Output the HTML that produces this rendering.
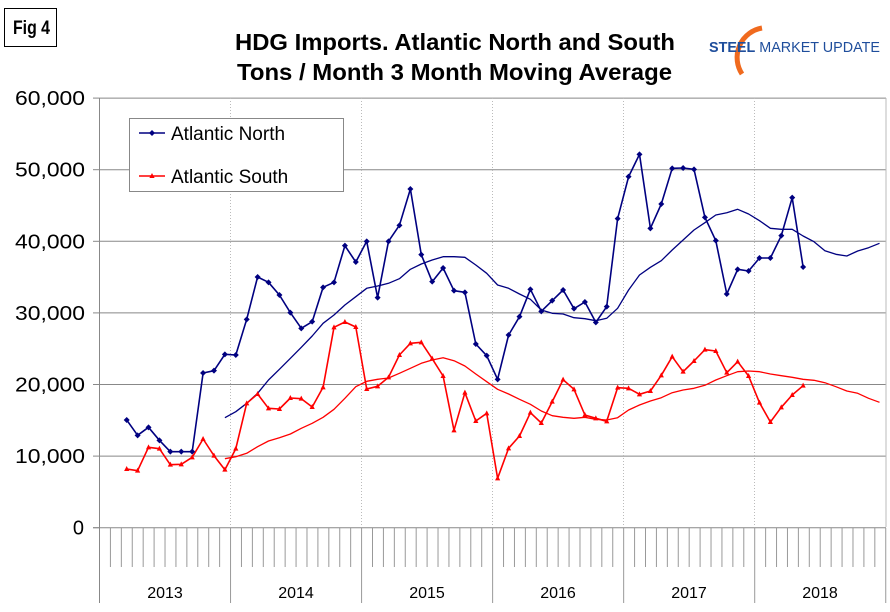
<!DOCTYPE html>
<html><head><meta charset="utf-8"><style>
body{margin:0;background:#fff;width:890px;height:612px;overflow:hidden}
svg{display:block;font-family:"Liberation Sans",Arial,sans-serif}
</style></head><body>
<svg id="s" width="890" height="612" viewBox="0 0 890 612" xmlns="http://www.w3.org/2000/svg">
<rect x="0" y="0" width="890" height="612" fill="#fff"/>
<rect x="4.5" y="8.5" width="52" height="38" fill="#fff" stroke="#000" stroke-width="1"/>
<text x="13" y="34" font-size="19" font-weight="bold" textLength="37" lengthAdjust="spacingAndGlyphs">Fig 4</text>
<text x="235" y="50" font-size="23" font-weight="bold" textLength="440" lengthAdjust="spacingAndGlyphs">HDG Imports. Atlantic North and South</text>
<text x="237" y="80" font-size="23" font-weight="bold" textLength="435" lengthAdjust="spacingAndGlyphs">Tons / Month 3 Month Moving Average</text>
<path d="M762 28 A30 30 0 0 0 742 74" fill="none" stroke="#f06a1e" stroke-width="5"/>
<text x="709" y="52" font-size="15" fill="#1f4e9c" textLength="171" lengthAdjust="spacingAndGlyphs"><tspan font-weight="bold">STEEL</tspan> MARKET UPDATE</text>
<g id="g"></g>
</svg>
<script>
const g=document.getElementById('g');let h='';
const Y0=527.7,step=71.6;
for(let i=1;i<=6;i++){const y=Y0-i*step;h+=`<line x1="99.5" y1="${y}" x2="886" y2="${y}" stroke="#888" stroke-width="1"/>`;}
for(let k=1;k<6;k++){const x=99.5+k*131;h+=`<line x1="${x}" y1="98" x2="${x}" y2="527" stroke="#bbb" stroke-width="1" stroke-dasharray="1,2"/>`;}
h+=`<line x1="886" y1="98" x2="886" y2="527" stroke="#bbb"/>`;
for(let i=0;i<=6;i++){const y=Y0-i*step;const v=i==0?'0':(i*10)+',000';
 h+=i==0?`<text x="84" y="${y+7}" font-size="20" text-anchor="end">0</text>`:`<text x="15" y="${y+7}" font-size="20" textLength="70" lengthAdjust="spacingAndGlyphs">${v}</text>`;
 h+=`<line x1="93" y1="${y}" x2="99.5" y2="${y}" stroke="#888"/>`;}
h+=`<line x1="99.5" y1="98" x2="99.5" y2="603" stroke="#888"/><line x1="93" y1="${Y0}" x2="886" y2="${Y0}" stroke="#888"/>`;
for(let k=1;k<=72;k++){const x=99.5+k*10.92;const yr=k%12==0;h+=`<line x1="${x}" y1="528" x2="${x}" y2="${yr?603:567}" stroke="#999"/>`;}
['2013','2014','2015','2016','2017','2018'].forEach((t,i)=>{h+=`<text x="${99.5+131*i+65.5}" y="598" font-size="16" text-anchor="middle">${t}</text>`});
const x0=126.7,dx=10.91;
function pts(arr,start){return arr.map((Y,i)=>[x0+(start+i)*dx,90+Y/3]);}
const nY=[990,1036,1012,1051,1085,1085,1085,849,842,793,795,688,561,577,615,668,715,695,592,577,467,516,454,623,454,406,297,494,575,534,602,607,762,797,868,
735,680,598,664,632,600,656,636,697,650,386,260,193,415,342,235,234,238,382,452,612,538,543,504,504,437,323,531];
const nM=[983,965,940,910,870,838,805,772,738,700,675,645,620,595,588,580,566,538,522,510,500,500,502,525,550,585,
595,612,628,660,670,672,683,686,692,685,655,600,555,532,512,480,450,420,398,375,368,358,372,392,415,418,418,438,455,482,493,498,483,473,460];
const sY=[1137,1142,1072,1076,1124,1123,1102,1047,1097,1139,1076,940,912,955,957,924,926,951,892,712,696,711,897,889,862,795,760,757,806,858,1021,908,993,970,1165,
1075,1038,968,999,935,869,898,975,985,994,893,895,913,903,856,800,845,813,779,783,848,815,858,938,996,952,915,887];
const sM=[1106,1100,1090,1070,1053,1043,1032,1015,1000,982,958,925,890,874,868,864,850,835,820,810,803,812,828,852,875,898,
912,928,943,963,977,982,985,982,988,990,983,960,945,933,923,908,900,895,886,870,857,845,843,845,852,857,862,868,871,878,890,903,910,925,937];
function line(p,c,w){return `<polyline points="${p.map(q=>q[0].toFixed(1)+','+q[1].toFixed(1)).join(' ')}" fill="none" stroke="${c}" stroke-width="${w}" stroke-linejoin="round"/>`;}
const np=pts(nY,0),sp=pts(sY,0);
h+=line(pts(nM,9),'#000080',1.3)+line(pts(sM,9),'#ff0000',1.3);
h+=line(np,'#000080',1.6)+line(sp,'#ff0000',1.6);
np.forEach(q=>{h+=`<path d="M${q[0]} ${q[1]-3}L${q[0]+3} ${q[1]}L${q[0]} ${q[1]+3}L${q[0]-3} ${q[1]}Z" fill="#000080"/>`});
sp.forEach(q=>{h+=`<path d="M${q[0]} ${q[1]-3}L${q[0]+2.6} ${q[1]+2}L${q[0]-2.6} ${q[1]+2}Z" fill="#ff0000"/>`});
h+=`<rect x="129.5" y="118.5" width="214" height="73" fill="#fff" stroke="#888"/>`;
h+=`<line x1="139" y1="133" x2="165" y2="133" stroke="#000080" stroke-width="1.6"/><path d="M152 130L155 133L152 136L149 133Z" fill="#000080"/>`;
h+=`<line x1="139" y1="176" x2="165" y2="176" stroke="#ff0000" stroke-width="1.6"/><path d="M152 173L154.6 178L149.4 178Z" fill="#ff0000"/>`;
h+=`<text x="171" y="140" font-size="19">Atlantic North</text><text x="171" y="183" font-size="19">Atlantic South</text>`;
g.innerHTML=h;
</script>
</body></html>
